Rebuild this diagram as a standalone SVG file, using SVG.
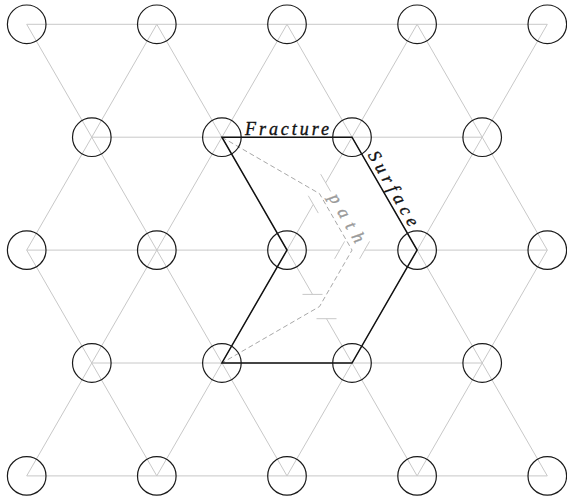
<svg xmlns="http://www.w3.org/2000/svg" width="567" height="496" viewBox="0 0 567 496">
  <style>
    .bond { stroke: #c8c8c8; stroke-width: 1; fill: none; }
    .node { stroke: #1a1a1a; stroke-width: 1.2; fill: none; }
    .crack { stroke: #a8a8a8; stroke-width: 1; fill: none; stroke-dasharray: 5 3; }
    .surface { stroke: #111; stroke-width: 1.5; fill: none; stroke-linejoin: miter; }
    .lbl { font-family: "Liberation Serif", "Times New Roman", serif; font-style: italic; font-size: 18px; stroke-width: 0.35; }
    .dark { fill: #111; stroke: #111; }
    .light { fill: #9a9a9a; stroke: #9a9a9a; }
  </style>
  <defs>
    <circle id="atom" r="19.3"/>
  </defs>
  <rect width="567" height="496" fill="#fff"/>

  <!-- lattice bonds -->
  <g id="connectors" class="bond">
    <!-- horizontal rows -->
    <line x1="26.7" y1="24.3" x2="547.3" y2="24.3"/>
    <line x1="91.8" y1="137.2" x2="482.2" y2="137.2"/>
    <line x1="26.7" y1="250.1" x2="339.55" y2="250.1"/>
    <line x1="364.55" y1="250.1" x2="547.3" y2="250.1"/>
    <line x1="91.8" y1="363" x2="482.2" y2="363"/>
    <line x1="26.7" y1="475.9" x2="547.3" y2="475.9"/>
    <!-- down-right diagonals -->
    <line x1="26.7" y1="24.3" x2="287" y2="475.9"/>
    <line x1="156.8" y1="24.3" x2="312.5" y2="294.4"/>
    <line x1="326.5" y1="318.7" x2="417.1" y2="475.9"/>
    <line x1="287" y1="24.3" x2="547.3" y2="475.9"/>
    <line x1="417.1" y1="24.3" x2="547.3" y2="250.1"/>
    <line x1="26.7" y1="250.1" x2="156.8" y2="475.9"/>
    <!-- up-right diagonals -->
    <line x1="26.7" y1="475.9" x2="287" y2="24.3"/>
    <line x1="156.8" y1="475.9" x2="313.26" y2="204.48"/>
    <line x1="325.74" y1="182.82" x2="417.1" y2="24.3"/>
    <line x1="287" y1="475.9" x2="547.3" y2="24.3"/>
    <line x1="417.1" y1="475.9" x2="547.3" y2="250.1"/>
    <line x1="26.7" y1="250.1" x2="156.8" y2="24.3"/>
    <!-- end marks of the broken bonds -->
    <line x1="308.3" y1="195.8" x2="318.3" y2="213.1"/>
    <line x1="320.7" y1="174.2" x2="330.7" y2="191.5"/>
    <line x1="334.6" y1="258.8" x2="344.6" y2="241.4"/>
    <line x1="359.6" y1="258.8" x2="369.6" y2="241.4"/>
    <line x1="302.5" y1="294.4" x2="322.5" y2="294.4"/>
    <line x1="316.5" y1="318.7" x2="336.5" y2="318.7"/>
    <!-- crack path through broken bonds -->
    <path class="crack" d="M221.9,137.2 L319.5,193.65 L352.05,250.1 L319.5,306.55 L221.9,363"/>
    <!-- fracture surface -->
    <path class="surface" d="M221.9,137.2 L352,137.2 L417.1,250.1 L352,363 L221.9,363 L287,250.1 Z"/>
  </g>

  <!-- atoms -->
  <g id="n00" class="node"><use href="#atom" x="26.7" y="24.3"/></g>
  <g id="n01" class="node"><use href="#atom" x="156.8" y="24.3"/></g>
  <g id="n02" class="node"><use href="#atom" x="287" y="24.3"/></g>
  <g id="n03" class="node"><use href="#atom" x="417.1" y="24.3"/></g>
  <g id="n04" class="node"><use href="#atom" x="547.3" y="24.3"/></g>

  <g id="n10" class="node"><use href="#atom" x="91.8" y="137.2"/></g>
  <g id="n11" class="node"><use href="#atom" x="221.9" y="137.2"/></g>
  <g id="n12" class="node"><use href="#atom" x="352" y="137.2"/></g>
  <g id="n13" class="node"><use href="#atom" x="482.2" y="137.2"/></g>

  <g id="n20" class="node"><use href="#atom" x="26.7" y="250.1"/></g>
  <g id="n21" class="node"><use href="#atom" x="156.8" y="250.1"/></g>
  <g id="n22" class="node"><use href="#atom" x="287" y="250.1"/></g>
  <g id="n23" class="node"><use href="#atom" x="417.1" y="250.1"/></g>
  <g id="n24" class="node"><use href="#atom" x="547.3" y="250.1"/></g>

  <g id="n30" class="node"><use href="#atom" x="91.8" y="363"/></g>
  <g id="n31" class="node"><use href="#atom" x="221.9" y="363"/></g>
  <g id="n32" class="node"><use href="#atom" x="352" y="363"/></g>
  <g id="n33" class="node"><use href="#atom" x="482.2" y="363"/></g>

  <g id="n40" class="node"><use href="#atom" x="26.7" y="475.9"/></g>
  <g id="n41" class="node"><use href="#atom" x="156.8" y="475.9"/></g>
  <g id="n42" class="node"><use href="#atom" x="287" y="475.9"/></g>
  <g id="n43" class="node"><use href="#atom" x="417.1" y="475.9"/></g>
  <g id="n44" class="node"><use href="#atom" x="547.3" y="475.9"/></g>

  <!-- labels -->
  <g id="labels" class="lbl">
    <text class="dark" x="287" y="134.8" text-anchor="middle" textLength="84" lengthAdjust="spacing">Fracture</text>
    <text class="dark" transform="translate(388.5,191.4) rotate(60)" text-anchor="middle" textLength="84" lengthAdjust="spacing">Surface</text>
    <text class="light" transform="translate(342,221) rotate(60)" text-anchor="middle" textLength="54" lengthAdjust="spacing">path</text>
  </g>
</svg>
